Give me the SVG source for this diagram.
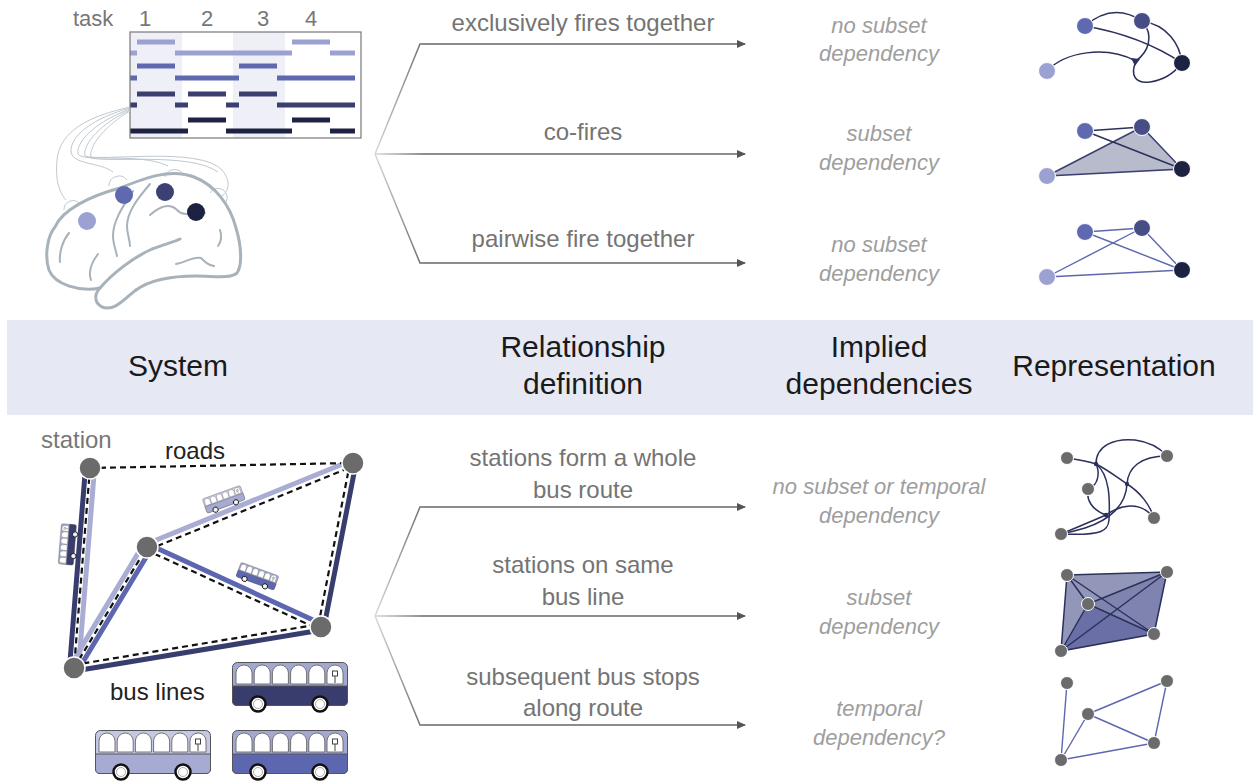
<svg xmlns="http://www.w3.org/2000/svg" xmlns:xlink="http://www.w3.org/1999/xlink" width="1253" height="784" viewBox="0 0 1253 784">
<style>
text{font-family:"Liberation Sans","Helvetica Neue",Arial,sans-serif}
.lbl{font-size:24px;fill:#747474;text-anchor:middle}
.dep{font-size:22px;fill:#9e9e9e;font-style:italic;text-anchor:middle}
.hdr{font-size:30px;fill:#1a1a1a;text-anchor:middle}
.fan{fill:none;stroke:url(#fade);stroke-width:1.5;marker-end:url(#arr)}
.edge{fill:none;stroke:#2b305c;stroke-width:1.5}
.bedge{fill:none;stroke:#5d67b0;stroke-width:1.4}
.road{fill:none;stroke:#111;stroke-width:2.2;stroke-dasharray:6 4}
.ln{fill:none;stroke-width:5;stroke-linecap:butt}
.st{fill:#6b6b6b;stroke:#fff;stroke-width:1.5}
.gn{fill:#6b6b6b;stroke:#fff;stroke-width:1}
.wire{fill:none;stroke:#b8c2ca;stroke-width:0.9}
.brain{fill:none;stroke:#a7b2ba;stroke-width:3;stroke-linecap:round;stroke-linejoin:round}
.sul{fill:none;stroke:#a7b2ba;stroke-width:2;stroke-linecap:round}
.win{fill:#fff;stroke:#666;stroke-width:0.9}
</style>
<defs>
<linearGradient id="fade" gradientUnits="userSpaceOnUse" x1="375" y1="0" x2="425" y2="0">
<stop offset="0" stop-color="#d8d8d8"/>
<stop offset="1" stop-color="#666"/>
</linearGradient>
<marker id="arr" markerWidth="9" markerHeight="8" refX="8" refY="4" orient="auto" markerUnits="userSpaceOnUse">
<path d="M0,0 L9,4 L0,8 Z" fill="#555"/>
</marker>
<g id="bus">
<rect x="0.5" y="0.5" width="115" height="43" rx="5" stroke="#555" stroke-width="1"/>
<path d="M0.5,24 H115.5 V39 Q115.5,43.5 111,43.5 H5 Q0.5,43.5 0.5,39 Z" fill="currentColor" stroke="#555" stroke-width="1"/>
<path class="win" d="M4,22 V11 A8,8 0 0 1 20,11 V22 Z"/>
<path class="win" d="M22.2,22 V11 A8,8 0 0 1 38.2,11 V22 Z"/>
<path class="win" d="M40.4,22 V11 A8,8 0 0 1 56.4,11 V22 Z"/>
<path class="win" d="M58.6,22 V11 A8,8 0 0 1 74.6,11 V22 Z"/>
<path class="win" d="M76.8,22 V11 A8,8 0 0 1 92.8,11 V22 Z"/>
<path class="win" d="M95,22 V11 A8,8 0 0 1 111,11 V22 Z"/>
<rect x="100.5" y="9" width="5" height="5" fill="none" stroke="#444" stroke-width="1"/>
<line x1="103" y1="14" x2="103" y2="21" stroke="#444" stroke-width="1"/>
<circle cx="26" cy="42" r="7.5" fill="#fff" stroke="#111" stroke-width="2.5"/>
<circle cx="26" cy="42" r="4.5" fill="none" stroke="#999" stroke-width="0.8"/>
<circle cx="88" cy="42" r="7.5" fill="#fff" stroke="#111" stroke-width="2.5"/>
<circle cx="88" cy="42" r="4.5" fill="none" stroke="#999" stroke-width="0.8"/>
</g>
</defs>
<rect width="1253" height="784" fill="#fff"/>

<!-- header band -->
<g id="header">
<rect x="7" y="320" width="1246" height="95" fill="#e6e8f4"/>
<text class="hdr" x="178" y="376">System</text>
<text class="hdr" x="583" y="357">Relationship</text>
<text class="hdr" x="583" y="394">definition</text>
<text class="hdr" x="879" y="357">Implied</text>
<text class="hdr" x="879" y="394">dependencies</text>
<text class="hdr" x="1114" y="376">Representation</text>
</g>

<!-- neural system -->
<g id="raster">
<text x="73" y="26" style="font-size:22px;fill:#777">task</text>
<text x="145" y="26" style="font-size:22px;fill:#777;text-anchor:middle">1</text>
<text x="207" y="26" style="font-size:22px;fill:#777;text-anchor:middle">2</text>
<text x="263" y="26" style="font-size:22px;fill:#777;text-anchor:middle">3</text>
<text x="311" y="26" style="font-size:22px;fill:#777;text-anchor:middle">4</text>
<rect x="130" y="32" width="52" height="106" fill="#eff0f7"/>
<rect x="233" y="32" width="52" height="106" fill="#eff0f7"/>
<g fill="#9ba1d1">
<rect x="130" y="50.5" width="7" height="5"/><rect x="137" y="39.5" width="38" height="5"/><rect x="175" y="50.5" width="117" height="5"/><rect x="292" y="39.5" width="38" height="5"/><rect x="330" y="50.5" width="25" height="5"/>
</g>
<g fill="#5f69b0">
<rect x="130" y="75.5" width="7" height="5"/><rect x="137" y="63.5" width="38" height="5"/><rect x="175" y="75.5" width="64" height="5"/><rect x="239" y="63.5" width="38" height="5"/><rect x="277" y="75.5" width="78" height="5"/>
</g>
<g fill="#3a3f70">
<rect x="130" y="102.5" width="7" height="5"/><rect x="137" y="91.5" width="38" height="5"/><rect x="175" y="102.5" width="13" height="5"/><rect x="188" y="91.5" width="38" height="5"/><rect x="226" y="102.5" width="13" height="5"/><rect x="239" y="91.5" width="38" height="5"/><rect x="277" y="102.5" width="78" height="5"/>
</g>
<g fill="#1e2242">
<rect x="130" y="128.5" width="58" height="5"/><rect x="188" y="117.5" width="38" height="5"/><rect x="226" y="128.5" width="66" height="5"/><rect x="292" y="117.5" width="38" height="5"/><rect x="330" y="128.5" width="25" height="5"/>
</g>
<rect x="130" y="32" width="231" height="106" fill="none" stroke="#777" stroke-width="1.2"/>
</g>

<g id="brain">
<path class="wire" d="M130,107 C 90,116 60,130 57,160 C 55,182 60,193 66,200"/>
<path class="wire" d="M130,108 C 94,118 70,135 71,152 C 73,165 100,162 113,172"/>
<path class="wire" d="M130,109 C 98,121 76,140 78,154 C 82,163 140,152 168,166"/>
<path class="wire" d="M130,110 C 102,123 82,144 85,156 C 100,162 200,146 222,170 C 232,182 228,192 222,196"/>
<path class="wire" d="M130,111 C 106,125 88,146 91,158 C 110,163 190,152 218,172"/>
<path class="wire" d="M64,210 A9,9 0 0 1 80,204"/>
<path class="wire" d="M109,186 A10,10 0 0 1 127,180"/>
<path class="wire" d="M165,177 A10,10 0 0 1 184,176"/>
<path class="wire" d="M210,193 A9,9 0 0 1 226,202"/>
<path class="brain" d="M100,288 C 80,292 55,285 49,270 C 44,255 48,235 55,227 C 62,210 90,196 120,188 C 145,178 170,168 194,177 C 215,185 230,205 236,228 C 242,248 242,266 237,273 C 230,279 214,276 196,276 C 172,276 150,280 136,290"/>
<path class="brain" d="M136,290 C 125,298 115,312 102,307 C 93,302 95,293 100,288 C 112,274 132,258 152,249 C 165,244 174,242 180,239"/>
<path class="sul" d="M69,233 C 63,240 59,252 60,262"/>
<path class="sul" d="M98,254 C 92,262 88,272 91,280"/>
<path class="sul" d="M133,191 C 124,205 113,220 113,236 C 113,244 116,250 117,256"/>
<path class="sul" d="M150,184 C 138,198 127,212 127,226 C 127,234 130,240 130,246"/>
<path class="sul" d="M150,215 C 160,206 170,203 177,210 C 184,218 195,211 205,213"/>
<path class="sul" d="M176,264 C 186,262 194,256 201,258 C 205,262 208,265 214,266"/>
<path class="sul" d="M220,230 C 222,236 221,242 218,246"/>
<circle cx="87" cy="221" r="9" fill="#9ba1d1"/>
<circle cx="124" cy="195" r="9" fill="#5f69b0"/>
<circle cx="165" cy="192" r="9" fill="#3b4075"/>
<circle cx="196" cy="212" r="9" fill="#1e2242"/>
</g>

<g id="connectors">
<polyline class="fan" points="375,154 420,44 745,44"/>
<polyline class="fan" points="375,154 745,154"/>
<polyline class="fan" points="375,154 420,263 745,263"/>
<polyline class="fan" points="375,616 420,507 745,507"/>
<polyline class="fan" points="375,616 745,616"/>
<polyline class="fan" points="375,616 420,725 745,725"/>
</g>

<g id="rel-top">
<text class="lbl" x="583" y="31">exclusively fires together</text>
<text class="lbl" x="583" y="140">co-fires</text>
<text class="lbl" x="583" y="247">pairwise fire together</text>
</g>
<g id="dep-top">
<text class="dep" x="879" y="33">no subset</text>
<text class="dep" x="879" y="61">dependency</text>
<text class="dep" x="879" y="141">subset</text>
<text class="dep" x="879" y="170">dependency</text>
<text class="dep" x="879" y="252">no subset</text>
<text class="dep" x="879" y="281">dependency</text>
</g>

<g id="rep-top-1">
<path class="edge" d="M1085,26 Q1113,2 1142,21"/>
<path class="edge" d="M1085,26 C 1120,32 1155,45 1182,63"/>
<path class="edge" d="M1142,21 C 1168,25 1180,45 1182,63"/>
<path class="edge" d="M1047,71 C 1065,52 1105,45 1136,61"/>
<path class="edge" d="M1136,61 C 1148,52 1155,36 1142,21"/>
<path class="edge" d="M1136,61 C 1130,75 1135,84 1150,82 C 1165,80 1175,72 1182,63"/>
<path d="M1131,58 L1140,59 L1135,66 Z" fill="#2b305c"/>
<circle cx="1047" cy="71" r="8.5" fill="#9ba1d1" stroke="#fff"/>
<circle cx="1085" cy="26" r="8.5" fill="#5f69b0" stroke="#fff"/>
<circle cx="1142" cy="21" r="8.5" fill="#474d85" stroke="#fff"/>
<circle cx="1182" cy="63" r="8.5" fill="#1e2242" stroke="#fff"/>
</g>
<g id="rep-top-2">
<polygon points="1047,176 1142,127 1182,169" fill="#b8bbcc" stroke="#3a4070" stroke-width="1.5"/>
<line class="edge" x1="1085" y1="131" x2="1142" y2="127"/>
<line class="edge" x1="1085" y1="131" x2="1182" y2="169"/>
<circle cx="1047" cy="176" r="8.5" fill="#9ba1d1" stroke="#fff"/>
<circle cx="1085" cy="131" r="8.5" fill="#5f69b0" stroke="#fff"/>
<circle cx="1142" cy="127" r="8.5" fill="#474d85" stroke="#fff"/>
<circle cx="1182" cy="169" r="8.5" fill="#1e2242" stroke="#fff"/>
</g>
<g id="rep-top-3">
<line class="bedge" x1="1085" y1="232" x2="1142" y2="228"/>
<line class="bedge" x1="1085" y1="232" x2="1182" y2="270"/>
<line class="bedge" x1="1047" y1="277" x2="1142" y2="228"/>
<line class="bedge" x1="1047" y1="277" x2="1182" y2="270"/>
<line class="bedge" x1="1142" y1="228" x2="1182" y2="270"/>
<circle cx="1047" cy="277" r="8.5" fill="#9ba1d1" stroke="#fff"/>
<circle cx="1085" cy="232" r="8.5" fill="#5f69b0" stroke="#fff"/>
<circle cx="1142" cy="228" r="8.5" fill="#474d85" stroke="#fff"/>
<circle cx="1182" cy="270" r="8.5" fill="#1e2242" stroke="#fff"/>
</g>

<g id="transport">
<text x="41" y="448" style="font-size:24px;fill:#777">station</text>
<text x="165" y="459" style="font-size:24px;fill:#222">roads</text>
<text x="110" y="700" style="font-size:24px;fill:#222">bus lines</text>
<line class="ln" stroke="#383d6e" x1="85.5" y1="467.6" x2="69.5" y2="667.6"/>
<line class="ln" stroke="#a9add3" x1="94.5" y1="468.4" x2="78.5" y2="668.4"/>
<line class="ln" stroke="#a9add3" x1="70.2" y1="665.7" x2="143.2" y2="544.7"/>
<line class="ln" stroke="#5d67b0" x1="77.9" y1="670.3" x2="150.9" y2="549.3"/>
<line class="ln" stroke="#a9add3" x1="145.9" y1="544.2" x2="351.9" y2="460.2"/>
<line class="ln" stroke="#5d67b0" x1="148.3" y1="544.3" x2="322.3" y2="624.3"/>
<line class="ln" stroke="#383d6e" x1="355.9" y1="463.6" x2="323.9" y2="627.6"/>
<line class="ln" stroke="#383d6e" x1="74.5" y1="671" x2="321.5" y2="630"/>
<line class="road" x1="90" y1="468" x2="353" y2="463"/>
<line class="road" x1="90" y1="468" x2="74" y2="668"/>
<line class="road" x1="74" y1="668" x2="147" y2="547"/>
<line class="road" x1="148.1" y1="549.8" x2="354.1" y2="465.8"/>
<line class="road" x1="145.7" y1="549.7" x2="319.7" y2="629.7"/>
<line class="road" x1="350.1" y1="462.4" x2="318.1" y2="626.4"/>
<line class="road" x1="73.5" y1="665" x2="320.5" y2="624"/>
<circle class="st" cx="90" cy="468" r="11"/>
<circle class="st" cx="353" cy="463" r="11"/>
<circle class="st" cx="147" cy="547" r="11"/>
<circle class="st" cx="321" cy="627" r="11"/>
<circle class="st" cx="74" cy="668" r="11"/>
<use xlink:href="#bus" href="#bus" transform="translate(202,499) rotate(-20) scale(0.35)" fill="#c5c8e4" color="#a7abd3"/>
<use xlink:href="#bus" href="#bus" transform="translate(241,562) rotate(20) scale(0.35)" fill="#a3a8d2" color="#5d67b0"/>
<use xlink:href="#bus" href="#bus" transform="translate(58,564) rotate(-85.5) scale(0.35)" fill="#a3a8d2" color="#383d6e"/>
<use xlink:href="#bus" href="#bus" transform="translate(232,662)" fill="#a3a8d2" color="#383d6e"/>
<use xlink:href="#bus" href="#bus" transform="translate(95,730)" fill="#c5c8e4" color="#a7abd3"/>
<use xlink:href="#bus" href="#bus" transform="translate(232,730)" fill="#a3a8d2" color="#5d67b0"/>
</g>

<g id="rel-bottom">
<text class="lbl" x="583" y="466">stations form a whole</text>
<text class="lbl" x="583" y="498">bus route</text>
<text class="lbl" x="583" y="573">stations on same</text>
<text class="lbl" x="583" y="605">bus line</text>
<text class="lbl" x="583" y="685">subsequent bus stops</text>
<text class="lbl" x="583" y="716">along route</text>
</g>
<g id="dep-bottom">
<text class="dep" x="879" y="494">no subset or temporal</text>
<text class="dep" x="879" y="523">dependency</text>
<text class="dep" x="879" y="605">subset</text>
<text class="dep" x="879" y="634">dependency</text>
<text class="dep" x="879" y="716">temporal</text>
<text class="dep" x="879" y="745">dependency?</text>
</g>

<g id="rep-bottom-1">
<path class="edge" d="M1067,458 C 1080,460 1090,462 1096,464 C 1108,470 1118,478 1127,484 C 1140,492 1150,505 1154,518"/>
<path class="edge" d="M1096,464 C 1096,445 1115,438 1135,440 C 1150,442 1160,448 1167,456"/>
<path class="edge" d="M1167,456 C 1140,456 1128,468 1127,484 C 1126,505 1110,520 1085,528 C 1075,531 1066,533 1061,534"/>
<path class="edge" d="M1096,464 C 1110,475 1110,500 1109,520 C 1108,530 1104,536 1061,534"/>
<path class="edge" d="M1088,489 C 1086,500 1092,510 1106,515"/>
<path class="edge" d="M1106,515 C 1120,505 1140,500 1154,518"/>
<path class="edge" d="M1106,515 C 1090,522 1075,528 1061,534"/>
<path class="edge" d="M1096,464 C 1100,472 1098,482 1093,486"/>
<circle cx="1096" cy="464" r="2.2" fill="#2b305c"/>
<circle cx="1127" cy="484" r="2.2" fill="#2b305c"/>
<circle cx="1106" cy="515" r="2.2" fill="#2b305c"/>
<circle class="gn" cx="1067" cy="458" r="6.5"/>
<circle class="gn" cx="1167" cy="456" r="6.5"/>
<circle class="gn" cx="1088" cy="489" r="6.5"/>
<circle class="gn" cx="1154" cy="518" r="6.5"/>
<circle class="gn" cx="1061" cy="534" r="6.5"/>
</g>
<g id="rep-bottom-2">
<polygon points="1067,575 1167,572 1154,634 1061,651" fill="#9296b8"/>
<polygon points="1061,651 1088,604 1167,572" fill="#7a80ad" fill-opacity="0.8"/>
<polygon points="1061,651 1088,604 1154,634" fill="#6a70a5"/>
<polygon points="1061,651 1154,634 1167,572" fill="#6a70a5" fill-opacity="0.5"/>
<polygon class="edge" points="1067,575 1167,572 1154,634 1061,651" stroke-width="1.4"/>
<line class="edge" x1="1067" y1="575" x2="1154" y2="634" stroke-width="1.3"/>
<line class="edge" x1="1067" y1="575" x2="1088" y2="604" stroke-width="1.3"/>
<line class="edge" x1="1061" y1="651" x2="1167" y2="572" stroke-width="1.3"/>
<line class="edge" x1="1088" y1="604" x2="1167" y2="572" stroke-width="1.3"/>
<line class="edge" x1="1088" y1="604" x2="1061" y2="651" stroke-width="1.3"/>
<line class="edge" x1="1088" y1="604" x2="1154" y2="634" stroke-width="1.3"/>
<circle class="gn" cx="1067" cy="575" r="6.5"/>
<circle class="gn" cx="1167" cy="572" r="6.5"/>
<circle class="gn" cx="1088" cy="604" r="6.5"/>
<circle class="gn" cx="1154" cy="634" r="6.5"/>
<circle class="gn" cx="1061" cy="651" r="6.5"/>
</g>
<g id="rep-bottom-3">
<line class="bedge" x1="1067" y1="683" x2="1061" y2="760"/>
<line class="bedge" x1="1061" y1="760" x2="1088" y2="714"/>
<line class="bedge" x1="1088" y1="714" x2="1167" y2="681"/>
<line class="bedge" x1="1088" y1="714" x2="1154" y2="743"/>
<line class="bedge" x1="1167" y1="681" x2="1154" y2="743"/>
<line class="bedge" x1="1061" y1="760" x2="1154" y2="743"/>
<circle class="gn" cx="1067" cy="683" r="6.5"/>
<circle class="gn" cx="1167" cy="681" r="6.5"/>
<circle class="gn" cx="1088" cy="714" r="6.5"/>
<circle class="gn" cx="1154" cy="743" r="6.5"/>
<circle class="gn" cx="1061" cy="760" r="6.5"/>
</g>
</svg>
